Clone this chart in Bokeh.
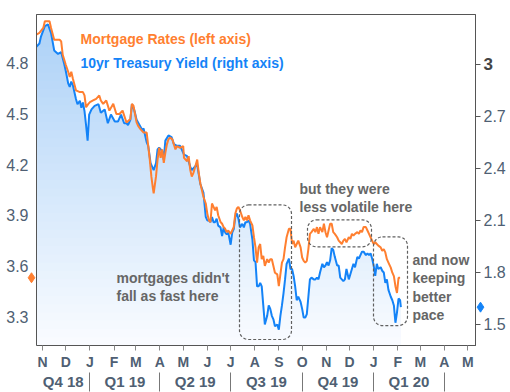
import numpy as np
import pandas as pd
from bokeh.plotting import figure
from bokeh.models import Range1d, LinearAxis, FixedTicker, Label, BoxAnnotation
from bokeh.core.properties import value
from bokeh.embed import file_html
from bokeh.resources import INLINE

# ---------------- data ----------------
mortgage_dates = [
    "2018-10-24", "2018-10-28", "2018-11-02", "2018-11-04", "2018-11-10", "2018-11-12", "2018-11-16", "2018-11-23",
    "2018-11-25", "2018-11-27", "2018-12-01", "2018-12-04", "2018-12-06", "2018-12-08", "2018-12-10", "2018-12-14",
    "2018-12-19", "2018-12-23", "2018-12-25", "2018-12-27", "2018-12-30", "2019-01-01", "2019-01-05", "2019-01-09",
    "2019-01-13", "2019-01-15", "2019-01-18", "2019-01-22", "2019-01-26", "2019-01-31", "2019-02-04", "2019-02-08",
    "2019-02-12", "2019-02-17", "2019-02-22", "2019-02-24", "2019-02-26", "2019-02-28", "2019-03-02", "2019-03-04",
    "2019-03-07", "2019-03-11", "2019-03-15", "2019-03-17", "2019-03-19", "2019-03-21", "2019-03-23", "2019-03-24",
    "2019-03-27", "2019-03-29", "2019-03-31", "2019-04-02", "2019-04-04", "2019-04-06", "2019-04-08", "2019-04-10",
    "2019-04-12", "2019-04-14", "2019-04-17", "2019-04-19", "2019-04-21", "2019-04-23", "2019-04-27", "2019-05-01",
    "2019-05-02", "2019-05-06", "2019-05-08", "2019-05-10", "2019-05-12", "2019-05-14", "2019-05-16", "2019-05-19",
    "2019-05-21", "2019-05-23", "2019-05-25", "2019-05-27", "2019-05-30", "2019-06-01", "2019-06-03", "2019-06-05",
    "2019-06-07", "2019-06-09", "2019-06-11", "2019-06-13", "2019-06-15", "2019-06-18", "2019-06-20", "2019-06-22",
    "2019-06-24", "2019-06-26", "2019-06-28", "2019-07-01", "2019-07-03", "2019-07-05", "2019-07-07", "2019-07-09",
    "2019-07-11", "2019-07-13", "2019-07-16", "2019-07-18", "2019-07-20", "2019-07-22", "2019-07-24", "2019-07-26",
    "2019-07-29", "2019-07-31", "2019-08-02", "2019-08-04", "2019-08-06", "2019-08-08", "2019-08-10", "2019-08-12",
    "2019-08-14", "2019-08-17", "2019-08-19", "2019-08-21", "2019-08-23", "2019-08-25", "2019-08-27", "2019-08-30",
    "2019-09-01", "2019-09-03", "2019-09-05", "2019-09-07", "2019-09-09", "2019-09-11", "2019-09-14", "2019-09-16",
    "2019-09-18", "2019-09-20", "2019-09-22", "2019-09-24", "2019-09-26", "2019-09-29", "2019-10-01", "2019-10-03",
    "2019-10-05", "2019-10-07", "2019-10-09", "2019-10-11", "2019-10-13", "2019-10-16", "2019-10-18", "2019-10-20",
    "2019-10-22", "2019-10-24", "2019-10-27", "2019-10-29", "2019-10-31", "2019-11-02", "2019-11-04", "2019-11-06",
    "2019-11-08", "2019-11-10", "2019-11-12", "2019-11-15", "2019-11-17", "2019-11-19", "2019-11-21", "2019-11-23",
    "2019-11-25", "2019-11-27", "2019-11-30", "2019-12-02", "2019-12-04", "2019-12-06", "2019-12-08", "2019-12-11",
    "2019-12-13", "2019-12-15", "2019-12-17", "2019-12-19", "2019-12-22", "2019-12-24", "2019-12-26", "2019-12-28",
    "2019-12-30", "2020-01-01", "2020-01-03", "2020-01-05", "2020-01-07", "2020-01-10", "2020-01-12", "2020-01-14",
    "2020-01-16", "2020-01-18", "2020-01-20", "2020-01-23", "2020-01-25", "2020-01-27", "2020-01-29", "2020-01-31",
    "2020-02-02", "2020-02-04",
]
mortgage_rates = [
    4.97, 4.98, 5.01, 5.05, 5.05, 5.01, 4.94, 4.94,
    4.93, 4.85, 4.79, 4.75, 4.72, 4.75, 4.71, 4.64,
    4.63, 4.63, 4.61, 4.54, 4.56, 4.57, 4.58, 4.59,
    4.61, 4.58, 4.56, 4.58, 4.52, 4.56, 4.50, 4.50,
    4.52, 4.45, 4.47, 4.56, 4.55, 4.50, 4.45, 4.43,
    4.41, 4.39, 4.39, 4.31, 4.23, 4.13, 4.06, 4.03,
    4.13, 4.23, 4.30, 4.24, 4.29, 4.21, 4.27, 4.32,
    4.35, 4.36, 4.35, 4.32, 4.29, 4.31, 4.30, 4.31,
    4.24, 4.22, 4.25, 4.17, 4.13, 4.15, 4.18, 4.23,
    4.15, 4.09, 4.05, 4.01, 3.97, 3.91, 3.87, 3.86,
    3.97, 3.95, 3.93, 3.95, 3.90, 3.86, 3.85, 3.83,
    3.82, 3.80, 3.81, 3.79, 3.81, 3.83, 3.91, 3.94,
    3.95, 3.93, 3.89, 3.87, 3.89, 3.87, 3.90, 3.87,
    3.84, 3.77, 3.71, 3.62, 3.71, 3.73, 3.64, 3.66,
    3.60, 3.64, 3.62, 3.64, 3.64, 3.60, 3.56, 3.55,
    3.48, 3.55, 3.62, 3.64, 3.71, 3.77, 3.82, 3.82,
    3.73, 3.75, 3.71, 3.73, 3.75, 3.71, 3.65, 3.63,
    3.62, 3.63, 3.70, 3.79, 3.80, 3.82, 3.80, 3.83,
    3.79, 3.83, 3.80, 3.85, 3.80, 3.77, 3.81, 3.85,
    3.85, 3.80, 3.79, 3.77, 3.75, 3.74, 3.73, 3.75,
    3.76, 3.74, 3.77, 3.76, 3.79, 3.78, 3.79, 3.80,
    3.79, 3.81, 3.80, 3.83, 3.83, 3.81, 3.79, 3.77,
    3.75, 3.73, 3.74, 3.73, 3.72, 3.71, 3.69, 3.70,
    3.68, 3.64, 3.62, 3.59, 3.56, 3.54, 3.48, 3.44,
    3.53, 3.53,
]

treasury_dates = [
    "2018-10-24", "2018-10-28", "2018-10-30", "2018-11-04", "2018-11-08", "2018-11-12", "2018-11-16", "2018-11-21",
    "2018-11-25", "2018-11-29", "2018-12-01", "2018-12-04", "2018-12-06", "2018-12-08", "2018-12-10", "2018-12-14",
    "2018-12-16", "2018-12-19", "2018-12-21", "2018-12-23", "2018-12-25", "2018-12-27", "2018-12-29", "2018-12-31",
    "2019-01-03", "2019-01-07", "2019-01-12", "2019-01-15", "2019-01-20", "2019-01-24", "2019-01-28", "2019-02-02",
    "2019-02-06", "2019-02-10", "2019-02-14", "2019-02-17", "2019-02-19", "2019-02-22", "2019-02-24", "2019-02-26",
    "2019-02-28", "2019-03-02", "2019-03-07", "2019-03-09", "2019-03-11", "2019-03-15", "2019-03-17", "2019-03-20",
    "2019-03-22", "2019-03-24", "2019-03-27", "2019-03-29", "2019-03-31", "2019-04-02", "2019-04-04", "2019-04-06",
    "2019-04-08", "2019-04-12", "2019-04-16", "2019-04-19", "2019-04-23", "2019-04-27", "2019-05-02", "2019-05-06",
    "2019-05-10", "2019-05-12", "2019-05-16", "2019-05-19", "2019-05-23", "2019-05-27", "2019-05-30", "2019-06-01",
    "2019-06-03", "2019-06-05", "2019-06-07", "2019-06-09", "2019-06-11", "2019-06-13", "2019-06-15", "2019-06-18",
    "2019-06-20", "2019-06-22", "2019-06-24", "2019-06-26", "2019-06-28", "2019-07-01", "2019-07-03", "2019-07-05",
    "2019-07-07", "2019-07-09", "2019-07-11", "2019-07-13", "2019-07-16", "2019-07-18", "2019-07-20", "2019-07-22",
    "2019-07-24", "2019-07-26", "2019-07-29", "2019-07-31", "2019-08-02", "2019-08-04", "2019-08-06", "2019-08-08",
    "2019-08-10", "2019-08-12", "2019-08-14", "2019-08-17", "2019-08-19", "2019-08-21", "2019-08-23", "2019-08-25",
    "2019-08-27", "2019-08-30", "2019-09-01", "2019-09-03", "2019-09-05", "2019-09-07", "2019-09-09", "2019-09-11",
    "2019-09-14", "2019-09-16", "2019-09-18", "2019-09-20", "2019-09-22", "2019-09-24", "2019-09-26", "2019-09-29",
    "2019-10-01", "2019-10-03", "2019-10-05", "2019-10-07", "2019-10-09", "2019-10-11", "2019-10-13", "2019-10-16",
    "2019-10-18", "2019-10-20", "2019-10-22", "2019-10-24", "2019-10-27", "2019-10-29", "2019-10-31", "2019-11-02",
    "2019-11-04", "2019-11-06", "2019-11-08", "2019-11-10", "2019-11-12", "2019-11-15", "2019-11-17", "2019-11-19",
    "2019-11-21", "2019-11-23", "2019-11-25", "2019-11-27", "2019-11-30", "2019-12-02", "2019-12-04", "2019-12-06",
    "2019-12-08", "2019-12-11", "2019-12-13", "2019-12-15", "2019-12-17", "2019-12-19", "2019-12-22", "2019-12-24",
    "2019-12-26", "2019-12-28", "2019-12-30", "2020-01-01", "2020-01-03", "2020-01-05", "2020-01-07", "2020-01-10",
    "2020-01-12", "2020-01-14", "2020-01-16", "2020-01-18", "2020-01-20", "2020-01-23", "2020-01-25", "2020-01-27",
    "2020-01-29", "2020-01-31", "2020-02-02", "2020-02-04", "2020-02-05",
]
treasury_yields = [
    3.10, 3.12, 3.16, 3.22, 3.23, 3.18, 3.08, 3.06,
    3.07, 3.00, 2.96, 2.89, 2.87, 2.90, 2.88, 2.80,
    2.77, 2.79, 2.75, 2.78, 2.73, 2.65, 2.56, 2.71,
    2.74, 2.76, 2.77, 2.72, 2.74, 2.66, 2.71, 2.67,
    2.67, 2.71, 2.66, 2.66, 2.65, 2.68, 2.77, 2.75,
    2.72, 2.68, 2.64, 2.62, 2.63, 2.55, 2.53, 2.43,
    2.41, 2.39, 2.43, 2.51, 2.52, 2.51, 2.50, 2.45,
    2.56, 2.59, 2.58, 2.54, 2.53, 2.53, 2.48, 2.47,
    2.41, 2.39, 2.41, 2.42, 2.31, 2.26, 2.12, 2.10,
    2.10, 2.09, 2.12, 2.09, 2.09, 2.11, 2.07, 2.06,
    2.01, 2.06, 2.03, 2.02, 2.03, 1.96, 2.03, 2.05,
    2.12, 2.14, 2.11, 2.06, 2.08, 2.06, 2.09, 2.09,
    2.10, 2.08, 1.99, 1.87, 1.86, 1.72, 1.72, 1.74,
    1.72, 1.61, 1.50, 1.55, 1.61, 1.59, 1.55, 1.53,
    1.49, 1.50, 1.47, 1.55, 1.61, 1.68, 1.76, 1.85,
    1.88, 1.82, 1.82, 1.78, 1.72, 1.64, 1.66, 1.63,
    1.59, 1.54, 1.54, 1.56, 1.66, 1.76, 1.77, 1.76,
    1.76, 1.77, 1.76, 1.80, 1.85, 1.83, 1.84, 1.86,
    1.84, 1.87, 1.94, 1.93, 1.89, 1.84, 1.84, 1.77,
    1.76, 1.75, 1.76, 1.82, 1.76, 1.79, 1.82, 1.85,
    1.83, 1.89, 1.88, 1.90, 1.92, 1.92, 1.90, 1.91,
    1.90, 1.91, 1.88, 1.84, 1.78, 1.85, 1.82, 1.83,
    1.81, 1.80, 1.74, 1.76, 1.70, 1.66, 1.64, 1.61,
    1.51, 1.57, 1.65, 1.64, 1.60,
]

month_starts = [
    "2018-11-01", "2018-12-01", "2019-01-01", "2019-02-01", "2019-03-01", "2019-04-01", "2019-05-01",
    "2019-06-01", "2019-07-01", "2019-08-01", "2019-09-01", "2019-10-01", "2019-11-01", "2019-12-01",
    "2020-01-01", "2020-02-01", "2020-03-01", "2020-04-01", "2020-05-01",
]
month_letters = ["N", "D", "J", "F", "M", "A", "M", "J", "J", "A", "S", "O", "N", "D", "J", "F", "M", "A", "M"]
quarter_starts = ["2019-01-01", "2019-04-01", "2019-07-01", "2019-10-01", "2020-01-01", "2020-04-01"]
quarter_labels = ["Q4 18", "Q1 19", "Q2 19", "Q3 19", "Q4 19", "Q1 20"]
left_ticks = [3.3, 3.6, 3.9, 4.2, 4.5, 4.8]
right_ticks = [1.5, 1.8, 2.1, 2.4, 2.7, 3.0]

legend_texts = ["Mortgage Rates (left axis)", "10yr Treasury Yield (right axis)"]
note_texts = [
    "mortgages didn't\nfall as fast here",
    "but they were\nless volatile here",
    "and now\nkeeping\nbetter\npace",
]

# ---------------- helpers ----------------
def ms(d):
    return int(pd.Timestamp(d).value // 10**6)

ORANGE = "#FF7F30"
BLUE = "#1483F7"
AXIS_C = "#555555"
LABEL_C = "#4f5f73"
NOTE_C = "#666666"
FONT = "Liberation Sans"

x_start = ms("2018-10-24 06:00")
x_end = ms("2020-05-11")
yl0, yl1 = 3.1287, 5.0894
yr0, yr1 = 1.379, 3.287

FW, FH = 439, 332  # frame size in px (layout only)
ms_per_px = (x_end - x_start) / FW
lpu = FH / (yl1 - yl0)

def fx(px):
    return x_start + px * ms_per_px

def fyl(py):
    return yl1 - py / lpu

mx = [ms(d) for d in mortgage_dates]
tx = [ms(d) for d in treasury_dates]
my = np.array(mortgage_rates)
ty = np.array(treasury_yields)

p = figure(width=510, height=392, output_backend="svg", toolbar_location=None,
           x_axis_type="datetime",
           x_range=Range1d(x_start, x_end), y_range=Range1d(yl0, yl1),
           min_border_left=36, min_border_right=35, min_border_top=14, min_border_bottom=46)
p.extra_y_ranges = {"right": Range1d(yr0, yr1)}
p.grid.visible = False
p.outline_line_color = AXIS_C
p.outline_line_width = 1
p.background_fill_color = "white"
p.border_fill_color = "white"

# ---------------- gradient area under the treasury line ----------------
n_bands = 40
top_c = np.array([170, 208, 247])
bot_c = np.array([250, 252, 255])
h = (yr1 - yr0) / n_bands
for k in range(n_bands):
    top_k = yr1 - k * h
    t = (k + 0.5) / n_bands
    c = top_c + (bot_c - top_c) * t
    col = "#%02x%02x%02x" % tuple(int(round(v)) for v in c)
    p.varea(x=tx, y1=np.full(len(ty), yr0), y2=np.minimum(ty, top_k),
            fill_color=col, fill_alpha=1.0, y_range_name="right")

p.line(tx, ty, line_color=BLUE, line_width=2, y_range_name="right")
p.line(mx, my, line_color=ORANGE, line_width=2)

# ---------------- axes ----------------
xa = p.xaxis[0]
xa.ticker = FixedTicker(ticks=[ms(d) for d in month_starts])
xa.major_label_overrides = {ms(d): l for d, l in zip(month_starts, month_letters)}
xa.axis_line_color = AXIS_C
xa.major_tick_line_color = "#888888"
xa.major_tick_out = 5
xa.major_tick_in = 0
xa.minor_tick_line_color = None
xa.major_label_standoff = 3
xa.major_label_text_font = FONT
xa.major_label_text_font_size = "14px"
xa.major_label_text_font_style = "bold"
xa.major_label_text_color = LABEL_C

q_bounds = [ms(d) for d in quarter_starts]
q_centers = [int((a + b) / 2) for a, b in zip([x_start] + q_bounds[:-1], q_bounds)]
qa = LinearAxis(ticker=FixedTicker(ticks=q_centers, minor_ticks=q_bounds))
qa.major_label_overrides = {c: l for c, l in zip(q_centers, quarter_labels)}
qa.axis_line_color = None
qa.major_tick_line_color = None
qa.major_tick_out = 0
qa.major_tick_in = 0
qa.minor_tick_line_color = "#777777"
qa.minor_tick_out = 19
qa.minor_tick_in = 0
qa.major_label_standoff = -19
qa.major_label_text_font = FONT
qa.major_label_text_font_size = "15px"
qa.major_label_text_font_style = "bold"
qa.major_label_text_color = LABEL_C
p.add_layout(qa, "below")

ya = p.yaxis[0]
ya.ticker = FixedTicker(ticks=left_ticks)
ya.axis_line_color = AXIS_C
ya.major_tick_out = 0
ya.major_tick_in = 0
ya.minor_tick_line_color = None
ya.major_label_standoff = 8
ya.major_label_text_font = FONT
ya.major_label_text_font_size = "16px"
ya.major_label_text_color = LABEL_C

ra = LinearAxis(y_range_name="right", ticker=FixedTicker(ticks=right_ticks))
ra.major_label_overrides = {3: " "}
ra.axis_line_color = AXIS_C
ra.major_tick_line_color = AXIS_C
ra.major_tick_out = 5
ra.major_tick_in = 0
ra.minor_tick_line_color = None
ra.major_label_standoff = 3
ra.major_label_text_font = FONT
ra.major_label_text_font_size = "16px"
ra.major_label_text_color = LABEL_C
p.add_layout(ra, "right")

# bold "3" label on the right axis and last-value markers (drawn outside the frame)
r3 = p.text(x=[fx(FW + 8)], y=[3.0], text=["3"], y_range_name="right",
            text_font=value(FONT), text_font_size="17px", text_font_style="bold",
            text_color="#444444", text_align="left", text_baseline="middle")
r3.level = "overlay"
rm1 = p.scatter(x=[fx(-5)], y=[float(my[-1])], marker="diamond", size=10,
                fill_color=ORANGE, line_color=ORANGE)
rm1.level = "overlay"
rm2 = p.scatter(x=[fx(FW + 5)], y=[float(ty[-1])], marker="diamond", size=10,
                fill_color=BLUE, line_color=BLUE, y_range_name="right")
rm2.level = "overlay"

# legend texts
for txt, col, py in zip(legend_texts, [ORANGE, BLUE], [17, 41]):
    p.add_layout(Label(x=fx(44), y=fyl(py), text=txt, text_font=FONT, text_font_size="14px",
                       text_font_style="bold", text_color=col, text_align="left", text_baseline="top"))

# dashed rounded boxes
for (l, r, t, b) in [(203, 255, 191, 326), (271, 335, 206, 233), (337, 371, 223, 312)]:
    p.add_layout(BoxAnnotation(left=fx(l), right=fx(r), top=fyl(t), bottom=fyl(b),
                               fill_color=None, fill_alpha=0, line_color="#606060", line_alpha=1.0,
                               line_dash="3 2", line_width=1.2, border_radius=9))

# notes
for txt, (px, py) in zip(note_texts, [(80, 256), (263, 167), (376, 238)]):
    p.add_layout(Label(x=fx(px), y=fyl(py), text=txt, text_font=FONT, text_font_size="14px",
                       text_font_style="bold", text_color=NOTE_C, text_align="left", text_baseline="top",
                       text_line_height=1.15))

open("out.html", "w").write(file_html(p, INLINE))
